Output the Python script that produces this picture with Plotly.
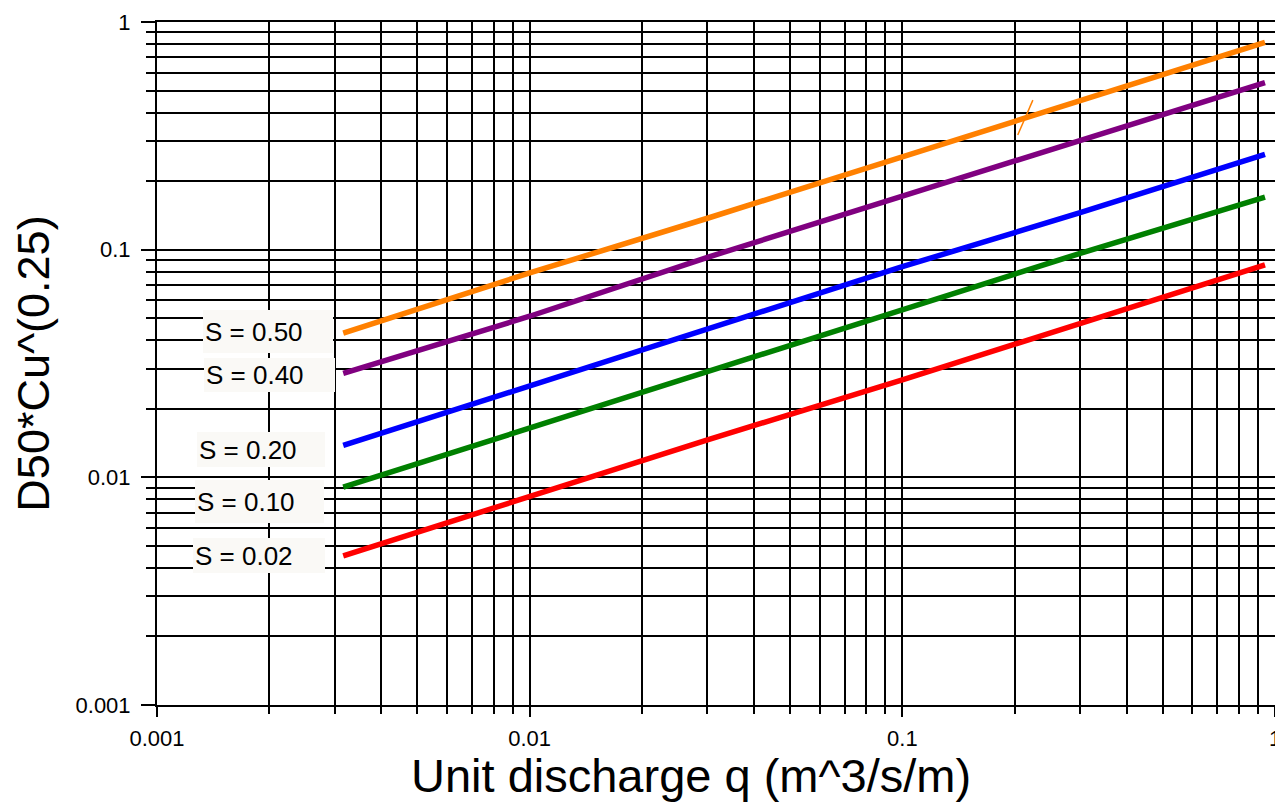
import plotly.graph_objects as go

# ---- data ----
q_vals = [0.00316, 0.01, 0.03, 0.1, 0.3, 0.94]
s050 = [0.0430, 0.0790, 0.1374, 0.256, 0.454, 0.814]
s040 = [0.0286, 0.0510, 0.0926, 0.172, 0.303, 0.542]
s020 = [0.0138, 0.0252, 0.0447, 0.0842, 0.1454, 0.262]
s010 = [0.00905, 0.0165, 0.0293, 0.0543, 0.0964, 0.170]
s002 = [0.00452, 0.0082, 0.0146, 0.0268, 0.0475, 0.0857]

series_names = ["S = 0.50", "S = 0.40", "S = 0.20", "S = 0.10", "S = 0.02"]
series_vals = [s050, s040, s020, s010, s002]
series_colors = ["#ff8000", "#800080", "#0000ff", "#008000", "#ff0000"]

slash_x = [0.204, 0.224]
slash_y = [0.319, 0.454]

major_vals = [0.001, 0.01, 0.1, 1]
major_text = ["0.001", "0.01", "0.1", "1"]
minor_vals = [m * d for d in [0.001, 0.01, 0.1] for m in range(2, 10)]

x_title = "Unit discharge q (m^3/s/m)"
y_title = "D50*Cu^(0.25)"

FONT = "Liberation Sans, Arial, sans-serif"

fig = go.Figure()
for name, vals, col in zip(series_names, series_vals, series_colors):
    fig.add_trace(go.Scatter(x=q_vals, y=vals, mode="lines", name=name,
                             line=dict(color=col, width=5.5), showlegend=False))
fig.add_trace(go.Scatter(x=slash_x, y=slash_y, mode="lines",
                         line=dict(color="#ff8000", width=1.5), showlegend=False))

axis_common = dict(
    type="log", range=[-3, 0], tickmode="array", tickvals=major_vals, ticktext=major_text,
    showgrid=True, gridcolor="black", gridwidth=1.6,
    showline=True, linecolor="black", linewidth=2, mirror=True,
    ticks="outside", tickcolor="black", tickwidth=1.6,
    tickfont=dict(family=FONT, size=22, color="black"),
    zeroline=False, automargin=False, ticklabeloverflow="allow",
)

fig.update_xaxes(**axis_common, ticklen=10, ticklabelstandoff=3,
                 minor=dict(tickmode="array", tickvals=minor_vals, ticks="outside", ticklen=7,
                            tickcolor="black", tickwidth=1.6, showgrid=True,
                            gridcolor="black", gridwidth=1.6))
fig.update_yaxes(**axis_common, ticklen=14, ticklabelstandoff=6,
                 minor=dict(tickmode="array", tickvals=minor_vals, ticks="outside", ticklen=9,
                            tickcolor="black", tickwidth=1.6, showgrid=True,
                            gridcolor="black", gridwidth=1.6),
                 title=dict(text=y_title,
                            font=dict(family=FONT, size=45, color="black"), standoff=26))

# label boxes (left edge px, top px, width, height in page pixels) -> paper coords
L, T, W, H = 157, 22, 1118, 683
boxes = [(203, 310, 130, 43), (204, 358, 131, 34), (197, 432, 128, 35),
         (195, 480, 129, 43), (193, 538, 132, 35)]
for name, (bx, by, bw, bh) in zip(series_names, boxes):
    fig.add_annotation(xref="paper", yref="paper",
                       x=(bx - L) / W, y=(T + H - by) / H,
                       xanchor="left", yanchor="top", width=bw - 4, height=bh - 4,
                       align="left", valign="middle", borderpad=2, borderwidth=0,
                       bgcolor="#faf9f6", showarrow=False, text=name,
                       font=dict(family=FONT, size=26, color="black"))

# x-axis title (slightly left of the axis centre, as in the reference)
fig.add_annotation(xref="paper", yref="paper", x=(691 - L) / W, y=(T + H - 775) / H,
                   xanchor="center", yanchor="middle", showarrow=False, text=x_title,
                   font=dict(family=FONT, size=47, color="black"))

# page body has an 8px margin: shrink the figure so the plot area lands in place
fig.update_layout(width=1275, height=796, margin=dict(l=149, r=8, t=14, b=99),
                  plot_bgcolor="white", paper_bgcolor="white", showlegend=False)

fig.write_html("out.html")
